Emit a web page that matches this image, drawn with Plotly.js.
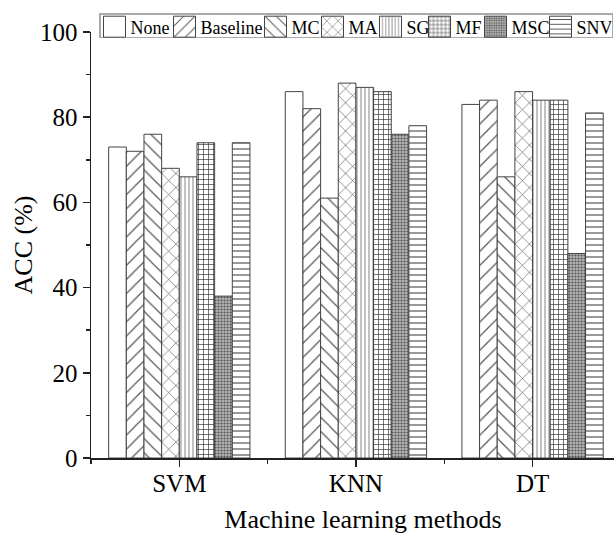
<!DOCTYPE html>
<html><head><meta charset="utf-8">
<script src="https://cdn.plot.ly/plotly-3.0.1.min.js"></script>
<style>html,body{margin:0;padding:0;overflow:hidden;background:#fff}#chart{width:680px;height:536px}</style>
</head><body><div id="chart"></div>
<script>
// ---- data ----
const categories = ['SVM', 'KNN', 'DT'];
const seriesNames = ['None', 'Baseline', 'MC', 'MA', 'SG', 'MF', 'MSC', 'SNV'];
const accNone     = [73, 86, 83];
const accBaseline = [72, 82, 84];
const accMC       = [76, 61, 66];
const accMA       = [68, 88, 86];
const accSG       = [66, 87, 84];
const accMF       = [74, 86, 84];
const accMSC      = [38, 76, 48];
const accSNV      = [74, 78, 81];
const seriesValues = [accNone, accBaseline, accMC, accMA, accSG, accMF, accMSC, accSNV];

// ---- styles ----
const FONT = 'Liberation Serif';
const patternStyles = [
  {shape: ''},
  {shape: '/',  size: 10, solidity: 0.12, fgcolor: '#555', bgcolor: '#fff'},
  {shape: '\\', size: 10, solidity: 0.12, fgcolor: '#555', bgcolor: '#fff'},
  {shape: 'x',  size: 10, solidity: 0.12, fgcolor: '#555', bgcolor: '#fff'},
  {shape: '|',  size: 4,  solidity: 0.3,  fgcolor: '#999', bgcolor: '#fff'},
  {shape: '+',  size: 5,  solidity: 0.25, fgcolor: '#333', bgcolor: '#fff'},
  {shape: '.',  size: 3,  solidity: 0.38, fgcolor: '#555', bgcolor: '#b4b4b4'},
  {shape: '-',  size: 6,  solidity: 0.18, fgcolor: '#444', bgcolor: '#fff'}
];
const legendWidths = [25, 46, 12, 13, 4, 11, 20, 30];

const idx = categories.map((c, j) => j);
const traces = seriesNames.map((name, i) => ({
  type: 'bar',
  name: name,
  x: idx,
  y: seriesValues[i],
  marker: {color: '#fff', line: {color: '#444', width: 1}, pattern: patternStyles[i]},
  legendwidth: legendWidths[i]
}));

const W = 680, H = 536;
const axisColor = '#222';
const LEG_BW = 1.5;
const layout = {
  width: W, height: H,
  margin: {l: 91, r: W - 635, t: 32, b: 78, autoexpand: false},
  paper_bgcolor: '#fff', plot_bgcolor: '#fff',
  font: {family: FONT, color: '#000', size: 18},
  barmode: 'group', bargap: 0.2, bargroupgap: 0,
  showlegend: true,
  legend: {
    orientation: 'h', xref: 'container', yref: 'container',
    x: 89 / W, y: 1 - 27 / H, xanchor: 'left', yanchor: 'middle',
    font: {size: 18, family: FONT, color: '#000'},
    bgcolor: '#fff', bordercolor: '#aaa', borderwidth: LEG_BW,
    itemwidth: 30, traceorder: 'normal'
  },
  xaxis: {
    range: [-0.5, 2.58], tickmode: 'array', tickvals: idx, ticktext: categories,
    showgrid: false, zeroline: false, showline: true, linecolor: axisColor, linewidth: 1.5,
    ticks: 'outside', ticklen: 7, tickwidth: 1.5, tickcolor: axisColor,
    tickfont: {size: 25, family: FONT, color: '#000'}, ticklabelstandoff: -5,
    minor: {tickmode: 'array', tickvals: [-0.5, 0.5, 1.5, 2.5], ticks: 'outside', ticklen: 4, tickwidth: 1.5, tickcolor: axisColor, showgrid: false},
    title: {text: 'Machine learning methods', font: {size: 26, family: FONT, color: '#000'}, standoff: 14},
    automargin: false, fixedrange: true
  },
  yaxis: {
    range: [0, 100], tickmode: 'linear', tick0: 0, dtick: 20,
    showgrid: false, zeroline: false, showline: true, linecolor: axisColor, linewidth: 1.5,
    ticks: 'outside', ticklen: 7, tickwidth: 1.5, tickcolor: axisColor,
    tickfont: {size: 25, family: FONT, color: '#000'},
    minor: {dtick: 10, tick0: 0, ticks: 'outside', ticklen: 4, tickwidth: 1.5, tickcolor: axisColor, showgrid: false},
    title: {text: 'ACC (%)', font: {size: 26, family: FONT, color: '#000'}, standoff: 0},
    automargin: false, fixedrange: true
  }
};

Plotly.newPlot('chart', traces, layout, {staticPlot: true, displayModeBar: false}).then(gd => {
  // larger legend swatches, as in the original figure
  gd.querySelectorAll('.legend .traces').forEach(tr => {
    const txt = tr.querySelector('text.legendtext');
    const tx = txt ? (parseFloat(txt.getAttribute('x')) || 40) : 40;
    tr.querySelectorAll('g.legendpoints path').forEach(p => {
      p.setAttribute('d', 'M11,10.5H-11V-10.5H11Z');
      p.setAttribute('transform', 'translate(' + (tx - 5 - 11) + ',0)');
    });
  });
  // tighter legend frame
  const leg = gd.querySelector('.legend');
  const bg = leg && leg.querySelector('rect.bg');
  if (leg && bg) {
    const m = /translate\(\s*([-\d.]+)[\s,]+([-\d.]+)\s*\)/.exec(leg.getAttribute('transform') || '');
    if (m) {
      const lx = parseFloat(m[1]), ly = parseFloat(m[2]);
      const w = parseFloat(bg.getAttribute('width'));
      const newX = 99 - lx + LEG_BW / 2;
      bg.setAttribute('x', newX);
      bg.setAttribute('width', Math.max(10, w - (newX - LEG_BW / 2)));
      bg.setAttribute('y', 13 - ly + LEG_BW / 2);
      bg.setAttribute('height', 25 - LEG_BW);
    }
  }
});
</script>
</body></html>
